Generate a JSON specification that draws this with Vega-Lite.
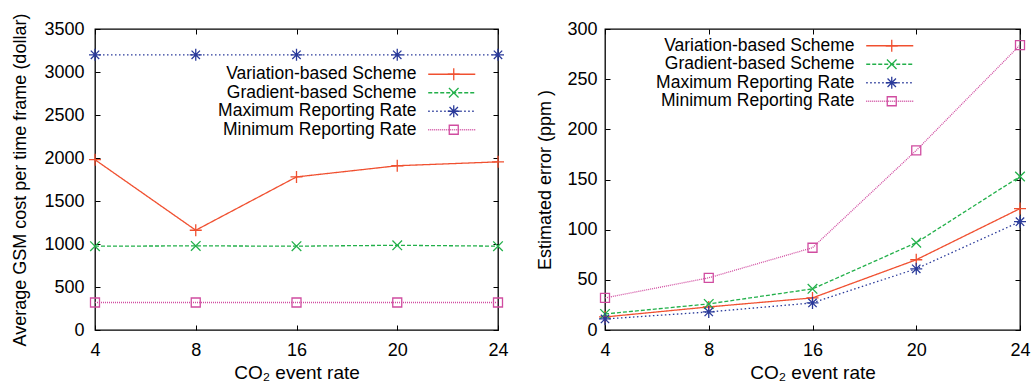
{
  "$schema": "https://vega.github.io/schema/vega-lite/v6.json",
  "padding": {"left": 11, "top": 12, "right": 5, "bottom": 5},
  "background": "white",
  "config": {
    "font": "Liberation Sans",
    "view": {"stroke": "black", "strokeWidth": 1.3},
    "axis": {"grid": false, "domain": false, "tickSize": -5, "tickColor": "black", "labelFontSize": 18, "titleFontSize": 18, "labelColor": "black", "titleColor": "black", "titleFontWeight": "normal", "labelFont": "Liberation Sans", "titleFont": "Liberation Sans", "format": "d"},
    "legend": {"labelFontSize": 17.5, "labelFont": "Liberation Sans", "labelColor": "black", "padding": 0, "rowPadding": -0.5, "labelLimit": 400}
  },
  "resolve": {"scale": {"color": "independent", "shape": "independent", "strokeDash": "independent"}, "legend": {"color": "independent", "shape": "independent", "strokeDash": "independent"}},
  "datasets": {
    "cost": [
      {"rate": 4, "series": "Variation-based Scheme", "value": 1980},
      {"rate": 8, "series": "Variation-based Scheme", "value": 1160},
      {"rate": 16, "series": "Variation-based Scheme", "value": 1780},
      {"rate": 20, "series": "Variation-based Scheme", "value": 1910},
      {"rate": 24, "series": "Variation-based Scheme", "value": 1955},
      {"rate": 4, "series": "Gradient-based Scheme", "value": 975},
      {"rate": 8, "series": "Gradient-based Scheme", "value": 978},
      {"rate": 16, "series": "Gradient-based Scheme", "value": 975},
      {"rate": 20, "series": "Gradient-based Scheme", "value": 985},
      {"rate": 24, "series": "Gradient-based Scheme", "value": 975},
      {"rate": 4, "series": "Maximum Reporting Rate", "value": 3200},
      {"rate": 8, "series": "Maximum Reporting Rate", "value": 3200},
      {"rate": 16, "series": "Maximum Reporting Rate", "value": 3200},
      {"rate": 20, "series": "Maximum Reporting Rate", "value": 3200},
      {"rate": 24, "series": "Maximum Reporting Rate", "value": 3200},
      {"rate": 4, "series": "Minimum Reporting Rate", "value": 320},
      {"rate": 8, "series": "Minimum Reporting Rate", "value": 320},
      {"rate": 16, "series": "Minimum Reporting Rate", "value": 320},
      {"rate": 20, "series": "Minimum Reporting Rate", "value": 320},
      {"rate": 24, "series": "Minimum Reporting Rate", "value": 320}
    ],
    "error": [
      {"rate": 4, "series": "Variation-based Scheme", "value": 13},
      {"rate": 8, "series": "Variation-based Scheme", "value": 23},
      {"rate": 16, "series": "Variation-based Scheme", "value": 32},
      {"rate": 20, "series": "Variation-based Scheme", "value": 70},
      {"rate": 24, "series": "Variation-based Scheme", "value": 121},
      {"rate": 4, "series": "Gradient-based Scheme", "value": 16},
      {"rate": 8, "series": "Gradient-based Scheme", "value": 26},
      {"rate": 16, "series": "Gradient-based Scheme", "value": 41},
      {"rate": 20, "series": "Gradient-based Scheme", "value": 87},
      {"rate": 24, "series": "Gradient-based Scheme", "value": 153},
      {"rate": 4, "series": "Maximum Reporting Rate", "value": 11},
      {"rate": 8, "series": "Maximum Reporting Rate", "value": 18},
      {"rate": 16, "series": "Maximum Reporting Rate", "value": 27},
      {"rate": 20, "series": "Maximum Reporting Rate", "value": 61},
      {"rate": 24, "series": "Maximum Reporting Rate", "value": 108},
      {"rate": 4, "series": "Minimum Reporting Rate", "value": 32},
      {"rate": 8, "series": "Minimum Reporting Rate", "value": 52},
      {"rate": 16, "series": "Minimum Reporting Rate", "value": 82},
      {"rate": 20, "series": "Minimum Reporting Rate", "value": 179},
      {"rate": 24, "series": "Minimum Reporting Rate", "value": 284}
    ]
  },
  "hconcat": [
    {
      "name": "left",
      "width": 403,
      "height": 301,
      "data": {"name": "cost"},
      "layer": [
        {
          "mark": {"type": "line", "strokeWidth": 1.3},
          "encoding": {
            "x": {"field": "rate", "type": "ordinal", "scale": {"type": "point", "padding": 0}, "axis": {"title": "CO₂ event rate", "titleFontSize": 19, "labelAngle": 0, "labelPadding": 16, "titlePadding": 4}},
            "y": {"field": "value", "type": "quantitative", "scale": {"domain": [0, 3500], "nice": false}, "axis": {"title": "Average GSM cost per time frame (dollar)", "values": [0, 500, 1000, 1500, 2000, 2500, 3000, 3500], "labelPadding": 16, "titlePadding": 14}},
            "color": {"field": "series", "type": "nominal", "scale": {"domain": ["Variation-based Scheme", "Gradient-based Scheme", "Maximum Reporting Rate", "Minimum Reporting Rate"], "range": ["#f05030", "#22b04a", "#2a3a9a", "#d04ca0"]}, "legend": {"title": null, "orient": "none", "legendX": 348, "legendY": 36.5, "symbolType": "M-3,0L3,0", "symbolSize": 246, "symbolStrokeWidth": 1.3, "labelAlign": "right", "labelOffset": -44}},
            "strokeDash": {"field": "series", "type": "nominal", "scale": {"domain": ["Variation-based Scheme", "Gradient-based Scheme", "Maximum Reporting Rate", "Minimum Reporting Rate"], "range": [[1, 0], [4, 2], [1.5, 2.5], [1, 1]]}, "legend": {"title": null}}
          }
        },
        {
          "mark": {"type": "point", "filled": false, "strokeWidth": 1.3, "opacity": 1, "size": 144},
          "encoding": {
            "x": {"field": "rate", "type": "ordinal", "axis": {"orient": "top", "labels": false, "title": null}},
            "y": {"field": "value", "type": "quantitative", "axis": {"orient": "right", "labels": false, "title": null, "values": [0, 500, 1000, 1500, 2000, 2500, 3000, 3500]}},
            "color": {"field": "series", "type": "nominal", "legend": null},
            "shape": {"field": "series", "type": "nominal", "scale": {"domain": ["Minimum Reporting Rate", "Maximum Reporting Rate", "Gradient-based Scheme", "Variation-based Scheme"], "range": ["M-0.75,-0.75L0.75,-0.75L0.75,0.75L-0.75,0.75Z", "M-1,0L1,0M0,-1L0,1M-0.7,-0.7L0.7,0.7M-0.7,0.7L0.7,-0.7", "M-0.8,-0.8L0.8,0.8M-0.8,0.8L0.8,-0.8", "M-1,0L1,0M0,-1L0,1"]}, "legend": {"title": null, "orient": "none", "legendX": 350, "legendY": 36.5, "symbolSize": 144, "labelExpr": "''", "labelColor": "transparent", "symbolStrokeWidth": 1.3, "symbolFillColor": "transparent", "symbolStrokeColor": {"expr": "scale('left_color', datum.value)"}, "values": ["Variation-based Scheme", "Gradient-based Scheme", "Maximum Reporting Rate", "Minimum Reporting Rate"]}}
          }
        }
      ],
      "resolve": {"axis": {"x": "independent", "y": "independent"}}
    },
    {
      "name": "right",
      "width": 415,
      "height": 301,
      "data": {"name": "error"},
      "layer": [
        {
          "mark": {"type": "line", "strokeWidth": 1.3},
          "encoding": {
            "x": {"field": "rate", "type": "ordinal", "scale": {"type": "point", "padding": 0}, "axis": {"title": "CO₂ event rate", "titleFontSize": 19, "labelAngle": 0, "labelPadding": 16, "titlePadding": 4}},
            "y": {"field": "value", "type": "quantitative", "scale": {"domain": [0, 300], "nice": false}, "axis": {"title": "Estimated error (ppm )", "values": [0, 50, 100, 150, 200, 250, 300], "labelPadding": 13, "titlePadding": 12}},
            "color": {"field": "series", "type": "nominal", "scale": {"domain": ["Variation-based Scheme", "Gradient-based Scheme", "Maximum Reporting Rate", "Minimum Reporting Rate"], "range": ["#f05030", "#22b04a", "#2a3a9a", "#d04ca0"]}, "legend": {"title": null, "orient": "none", "legendX": 276, "legendY": 8, "symbolType": "M-3,0L3,0", "symbolSize": 246, "symbolStrokeWidth": 1.3, "labelAlign": "right", "labelOffset": -44}},
            "strokeDash": {"field": "series", "type": "nominal", "scale": {"domain": ["Variation-based Scheme", "Gradient-based Scheme", "Maximum Reporting Rate", "Minimum Reporting Rate"], "range": [[1, 0], [4, 2], [1.5, 2.5], [1, 1]]}, "legend": {"title": null}}
          }
        },
        {
          "mark": {"type": "point", "filled": false, "strokeWidth": 1.3, "opacity": 1, "size": 144},
          "encoding": {
            "x": {"field": "rate", "type": "ordinal", "axis": {"orient": "top", "labels": false, "title": null}},
            "y": {"field": "value", "type": "quantitative", "axis": {"orient": "right", "labels": false, "title": null, "values": [0, 50, 100, 150, 200, 250, 300]}},
            "color": {"field": "series", "type": "nominal", "legend": null},
            "shape": {"field": "series", "type": "nominal", "scale": {"domain": ["Minimum Reporting Rate", "Maximum Reporting Rate", "Gradient-based Scheme", "Variation-based Scheme"], "range": ["M-0.75,-0.75L0.75,-0.75L0.75,0.75L-0.75,0.75Z", "M-1,0L1,0M0,-1L0,1M-0.7,-0.7L0.7,0.7M-0.7,0.7L0.7,-0.7", "M-0.8,-0.8L0.8,0.8M-0.8,0.8L0.8,-0.8", "M-1,0L1,0M0,-1L0,1"]}, "legend": {"title": null, "orient": "none", "legendX": 278, "legendY": 8, "symbolSize": 144, "labelExpr": "''", "labelColor": "transparent", "symbolStrokeWidth": 1.3, "symbolFillColor": "transparent", "symbolStrokeColor": {"expr": "scale('right_color', datum.value)"}, "values": ["Variation-based Scheme", "Gradient-based Scheme", "Maximum Reporting Rate", "Minimum Reporting Rate"]}}
          }
        }
      ],
      "resolve": {"axis": {"x": "independent", "y": "independent"}}
    }
  ],
  "spacing": 107,
  "bounds": "flush"
}
